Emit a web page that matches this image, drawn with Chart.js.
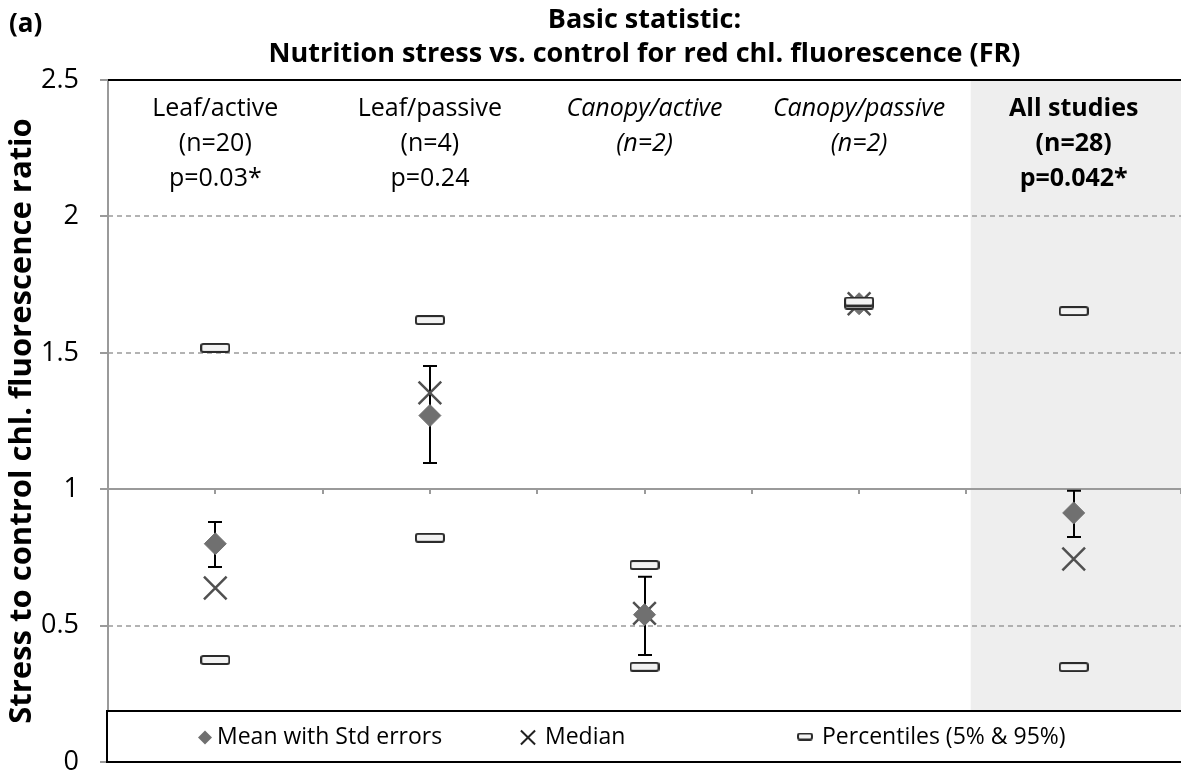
<!DOCTYPE html>
<html>
<head>
<meta charset="utf-8">
<script src="https://cdn.jsdelivr.net/npm/chart.js@4.4.1/dist/chart.umd.min.js"></script>
<style>
  html, body { margin: 0; padding: 0; background: #fff; }
</style>
</head>
<body>
<canvas id="grafico" width="1181" height="776"></canvas>
<script>
// categorias (posicao no eixo x) e rotulos de cada grupo
const categorias = [1, 2, 3, 4, 5];
const rotulos = [
    ['Leaf/active', '(n=20)', 'p=0.03*'],
    ['Leaf/passive', '(n=4)', 'p=0.24'],
    ['Canopy/active', '(n=2)'],
    ['Canopy/passive', '(n=2)'],
    ['All studies', '(n=28)', 'p=0.042*']
];
const estilosRotulo = ['normal', 'normal', 'italic', 'italic', 'bold'];

// valores
const media = [0.80, 1.27, 0.54, 1.68, 0.913];
const erroSup = [0.88, 1.452, 0.679, 1.685, 0.994];
const erroInf = [0.715, 1.096, 0.392, 1.675, 0.825];
const mediana = [0.638, 1.353, 0.545, 1.68, 0.744];
const p5 = [0.374, 0.822, 0.349, 1.677, 0.348];
const p95 = [1.518, 1.62, 0.722, 1.688, 1.653];

const ticksY = [0, 0.5, 1, 1.5, 2, 2.5];
const linhasTracejadas = [0.5, 1.5, 2];
const inicioDestaque = 4.52;

const fonte = '"Open Sans", Lato, sans-serif';

// marcador do percentil: retangulo achatado
function criaMarcadorPercentil(w, h) {
    const c = document.createElement('canvas');
    c.width = w; c.height = h;
    const g = c.getContext('2d');
    g.fillStyle = '#f2f2f2';
    g.strokeStyle = '#2b2b2b';
    g.lineWidth = 2;
    g.beginPath();
    g.roundRect(1, 1, w - 2, h - 2, 2);
    g.fill();
    g.stroke();
    return c;
}
const marcadorPercentil = criaMarcadorPercentil(30, 10);
const marcadorPercentilLegenda = criaMarcadorPercentil(16, 8);

const plugin = {
    id: 'extras',
    beforeDatasetsDraw(chart) {
        const { ctx, chartArea: a, scales: { x, y } } = chart;
        ctx.save();

        // area cinza de "All studies"
        const xDest = x.getPixelForValue(inicioDestaque);
        ctx.fillStyle = '#eeeeee';
        ctx.fillRect(xDest, a.top, a.right - xDest, a.bottom - a.top);

        // linhas tracejadas
        ctx.strokeStyle = '#9a9a9a';
        ctx.lineWidth = 1.5;
        ctx.setLineDash([5, 4]);
        linhasTracejadas.forEach(v => {
            const py = Math.round(y.getPixelForValue(v));
            ctx.beginPath();
            ctx.moveTo(a.left, py);
            ctx.lineTo(a.right, py);
            ctx.stroke();
        });
        ctx.setLineDash([]);

        // eixo horizontal em 1
        const py1 = Math.round(y.getPixelForValue(1));
        ctx.lineWidth = 2;
        ctx.beginPath();
        ctx.moveTo(a.left, py1);
        ctx.lineTo(a.right, py1);
        for (let v = 1; v <= 5.5; v += 0.5) {
            const px = Math.round(x.getPixelForValue(v));
            ctx.moveTo(px, py1);
            ctx.lineTo(px, py1 + 5);
        }
        ctx.stroke();

        // borda superior
        const pyTopo = Math.round(y.getPixelForValue(2.5));
        ctx.strokeStyle = '#000';
        ctx.beginPath();
        ctx.moveTo(a.left, pyTopo);
        ctx.lineTo(a.right, pyTopo);
        ctx.stroke();

        // barras de erro
        ctx.strokeStyle = '#000';
        ctx.lineWidth = 2;
        categorias.forEach((c, i) => {
            const px = Math.round(x.getPixelForValue(c));
            const t = y.getPixelForValue(erroSup[i]);
            const b = y.getPixelForValue(erroInf[i]);
            ctx.beginPath();
            ctx.moveTo(px, t); ctx.lineTo(px, b);
            ctx.moveTo(px - 7, t); ctx.lineTo(px + 7, t);
            ctx.moveTo(px - 7, b); ctx.lineTo(px + 7, b);
            ctx.stroke();
        });

        // rotulos das categorias
        ctx.fillStyle = '#000';
        ctx.textAlign = 'center';
        ctx.textBaseline = 'alphabetic';
        categorias.forEach((c, i) => {
            const px = x.getPixelForValue(c);
            const estilo = estilosRotulo[i];
            ctx.font = (estilo === 'italic' ? 'italic ' : '') + (estilo === 'bold' ? 'bold ' : '') + '25px ' + fonte;
            rotulos[i].forEach((linha, j) => {
                ctx.fillText(linha, px, a.top + 36 + j * 35);
            });
        });
        ctx.restore();
    },
    afterDatasetsDraw(chart) {
        const { ctx, chartArea: a } = chart;
        ctx.save();

        // caixa da legenda
        const topo = 711, base = a.bottom;
        ctx.fillStyle = '#fff';
        ctx.fillRect(a.left - 1, topo, a.right - a.left + 1, base - topo);
        ctx.strokeStyle = '#000';
        ctx.lineWidth = 2;
        ctx.strokeRect(a.left - 1, topo, a.right - a.left + 4, base - topo);

        const cy = (topo + base) / 2 + 1;
        const ds = chart.data.datasets;
        ctx.font = '23px ' + fonte;
        ctx.fillStyle = '#000';
        ctx.textBaseline = 'middle';
        ctx.textAlign = 'left';

        // media
        ctx.fillStyle = '#707070';
        Chart.helpers.drawPoint(ctx, { pointStyle: 'rectRot', radius: 7, borderWidth: 0, rotation: 0 }, a.left + 97, cy);
        ctx.fillStyle = '#000';
        ctx.fillText(ds[1].label, a.left + 109, cy);

        // mediana
        ctx.strokeStyle = '#222';
        ctx.lineWidth = 2;
        Chart.helpers.drawPoint(ctx, { pointStyle: 'crossRot', radius: 10, borderWidth: 2, rotation: 0 }, a.left + 420, cy);
        ctx.fillText(ds[2].label, a.left + 437, cy);

        // percentis
        ctx.drawImage(marcadorPercentilLegenda, a.left + 697 - 8, cy - 5);
        ctx.fillText(ds[0].label, a.left + 714, cy);

        // letra do painel
        ctx.font = 'bold 26px ' + fonte;
        ctx.fillText('(a)', 9, 25);
        ctx.restore();
    }
};

const pontos = arr => arr.map((v, i) => ({ x: categorias[i], y: v }));

const grafico = new Chart(document.getElementById('grafico'), {
    type: 'scatter',
    data: {
        datasets: [{
            label: 'Percentiles (5% & 95%)',
            data: pontos(p5).concat(pontos(p95)),
            pointStyle: marcadorPercentil,
            pointRadius: 10
        }, {
            label: 'Mean with Std errors',
            data: pontos(media),
            pointStyle: 'rectRot',
            pointRadius: 11,
            backgroundColor: '#707070',
            borderColor: '#707070',
            borderWidth: 1
        }, {
            label: 'Median',
            data: pontos(mediana),
            pointStyle: 'crossRot',
            pointRadius: 16,
            borderColor: '#505050',
            borderWidth: 2.5
        }]
    },
    options: {
        responsive: false,
        devicePixelRatio: 1,
        animation: false,
        layout: { autoPadding: false, padding: { left: 0, right: 0, top: 0, bottom: 14 } },
        plugins: {
            legend: { display: false },
            tooltip: { enabled: false },
            title: {
                display: true,
                fullSize: false,
                text: ['Basic statistic:', 'Nutrition stress vs. control for red chl. fluorescence (FR)'],
                color: '#000',
                font: { family: fonte, size: 27, weight: 'bold', lineHeight: 1.26 },
                padding: { top: 3, bottom: 9 }
            }
        },
        scales: {
            x: {
                type: 'linear',
                display: false,
                min: 0.5,
                max: 5.5
            },
            y: {
                min: 0,
                max: 2.5,
                afterBuildTicks: s => { s.ticks = ticksY.map(v => ({ value: v })); },
                afterFit: s => {
                    s.width = 108;
                    s.paddingTop = 0;
                    s.paddingBottom = 0;
                },
                ticks: {
                    color: '#000',
                    padding: 21,
                    font: { family: fonte, size: 27 },
                    callback: v => String(v)
                },
                grid: {
                    drawOnChartArea: false,
                    drawTicks: true,
                    tickLength: 8,
                    color: '#9a9a9a',
                    lineWidth: 2
                },
                border: { display: true, color: '#9a9a9a', width: 2 },
                title: {
                    display: true,
                    text: 'Stress to control chl. fluorescence ratio',
                    color: '#000',
                    font: { family: fonte, size: 31, weight: 'bold', lineHeight: 1.2 },
                    padding: { top: 4, bottom: 0 }
                }
            }
        }
    },
    plugins: [plugin]
});
</script>
</body>
</html>
